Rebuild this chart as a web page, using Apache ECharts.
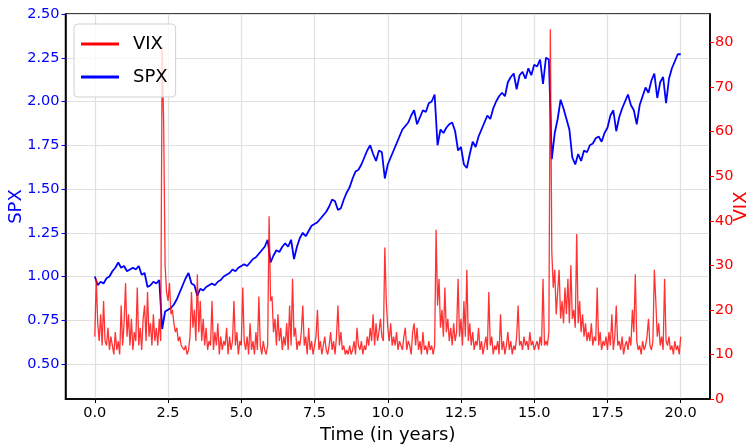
<!DOCTYPE html>
<html>
<head>
<meta charset="utf-8">
<script src="https://cdn.jsdelivr.net/npm/echarts@6/dist/echarts.min.js"></script>
<style>
  html, body { margin: 0; padding: 0; background: #fff; }
  #chart { width: 753px; height: 447px; }
</style>
</head>
<body>
<div id="chart"></div>
<script>
// sampling step of each series, in years
var spxStep = 0.1;
var vixStep = 0.05;

// SPX (normalised), one value every 0.1 year
var spxValues = [
  1.00, 0.95, 0.97, 0.96, 0.99, 1.00, 1.03, 1.05, 1.08, 1.05,
  1.06, 1.03, 1.04, 1.05, 1.04, 1.06, 1.01, 1.02, 0.94, 0.95,
  0.97, 0.96, 0.98, 0.70, 0.80, 0.81, 0.82, 0.84, 0.87, 0.91,
  0.95, 0.99, 1.02, 0.96, 0.95, 0.89, 0.93, 0.92, 0.94, 0.95,
  0.96, 0.95, 0.97, 0.98, 1.00, 1.01, 1.02, 1.04, 1.03, 1.05,
  1.06, 1.07, 1.06, 1.08, 1.10, 1.11, 1.13, 1.15, 1.17, 1.21,
  1.08, 1.12, 1.15, 1.14, 1.17, 1.19, 1.17, 1.21, 1.10, 1.17,
  1.22, 1.25, 1.23, 1.26, 1.29, 1.30, 1.31, 1.33, 1.35, 1.37,
  1.40, 1.44, 1.43, 1.38, 1.39, 1.44, 1.48, 1.51, 1.56, 1.60,
  1.61, 1.64, 1.68, 1.72, 1.75, 1.70, 1.66, 1.72, 1.71, 1.56,
  1.64, 1.68, 1.72, 1.76, 1.80, 1.84, 1.86, 1.88, 1.92, 1.95,
  1.87, 1.91, 1.95, 1.94, 1.99, 2.00, 2.04, 1.75, 1.84, 1.82,
  1.85, 1.87, 1.88, 1.83, 1.72, 1.74, 1.64, 1.62, 1.70, 1.77,
  1.74, 1.80, 1.84, 1.88, 1.92, 1.90, 1.96, 2.00, 2.03, 2.05,
  2.03, 2.11, 2.14, 2.16, 2.07, 2.15, 2.17, 2.13, 2.19, 2.15,
  2.21, 2.20, 2.24, 2.10, 2.25, 2.24, 1.67, 1.82, 1.90, 2.01,
  1.96, 1.90, 1.84, 1.68, 1.64, 1.70, 1.66, 1.72, 1.71, 1.75,
  1.76, 1.79, 1.80, 1.77, 1.82, 1.85, 1.92, 1.95, 1.83, 1.91,
  1.96, 2.00, 2.04, 1.98, 1.95, 1.87, 1.98, 2.03, 2.08, 2.05,
  2.12, 2.16, 2.02, 2.11, 2.14, 1.99, 2.13, 2.19, 2.23, 2.27,
  2.27
];

// VIX, one value every 0.05 year
var vixValues = [
  14, 27, 17, 13, 19, 12, 22, 13, 12, 16, 11, 14, 12, 10, 15, 11, 13, 10, 21, 12,
  17, 26, 14, 19, 12, 18, 11, 15, 13, 25, 12, 16, 11, 18, 21, 13, 24, 14, 17, 12,
  19, 13, 16, 12, 18, 13, 79, 62, 30, 24, 22, 26, 19, 20, 17, 15, 16, 13, 14, 12,
  12, 11, 12, 10, 11, 14, 24, 16, 20, 13, 28, 15, 22, 13, 18, 12, 16, 11, 13, 12,
  22, 11, 15, 12, 17, 10, 14, 11, 13, 12, 16, 10, 14, 11, 13, 22, 12, 15, 10, 13,
  12, 25, 13, 11, 14, 10, 17, 11, 13, 10, 15, 11, 23, 12, 10, 13, 11, 10, 12, 41,
  22, 23, 15, 18, 12, 19, 13, 16, 11, 14, 12, 17, 11, 21, 12, 27, 14, 16, 11, 13,
  12, 15, 21, 12, 14, 10, 16, 11, 13, 10, 12, 14, 20, 11, 13, 10, 12, 14, 11, 10,
  12, 15, 11, 13, 10, 14, 21, 12, 15, 11, 12, 10, 11, 10, 12, 10, 11, 13, 10, 16,
  12, 11, 13, 10, 12, 11, 14, 12, 16, 13, 19, 12, 17, 13, 15, 18, 14, 13, 34, 22,
  16, 13, 17, 12, 14, 12, 15, 11, 13, 12, 11, 14, 16, 11, 13, 12, 10, 15, 17, 12,
  16, 11, 13, 10, 15, 11, 12, 10, 13, 11, 12, 10, 12, 38, 21, 27, 16, 20, 14, 25,
  15, 18, 13, 16, 12, 17, 13, 15, 27, 14, 18, 12, 22, 14, 29, 13, 17, 12, 15, 11,
  13, 12, 16, 11, 13, 10, 12, 14, 11, 24, 12, 14, 10, 12, 11, 13, 10, 19, 11, 13,
  10, 12, 15, 11, 13, 10, 12, 11, 14, 21, 12, 13, 11, 14, 12, 13, 11, 15, 12, 13,
  11, 12, 13, 11, 14, 12, 27, 12, 13, 12, 15, 83, 33, 25, 29, 19, 24, 29, 18, 22,
  17, 25, 19, 27, 17, 30, 18, 20, 16, 37, 17, 22, 15, 19, 14, 17, 13, 15, 13, 17,
  12, 14, 13, 25, 12, 15, 11, 13, 12, 14, 11, 15, 12, 19, 11, 14, 21, 12, 13, 11,
  14, 10, 12, 13, 11, 14, 12, 20, 15, 28, 13, 11, 12, 10, 13, 11, 12, 14, 18, 12,
  11, 13, 29, 22, 14, 17, 12, 14, 11, 27, 13, 12, 14, 11, 12, 10, 13, 11, 12, 10,
  14
];

var xTicks = [0, 2.5, 5, 7.5, 10, 12.5, 15, 17.5, 20];
var spxTicks = [0.5, 0.75, 1.0, 1.25, 1.5, 1.75, 2.0, 2.25, 2.5];
var vixTicks = [0, 10, 20, 30, 40, 50, 60, 70, 80];

function toPairs(values, step) {
  return values.map(function (v, i) {
    return [Math.round(i * step * 100) / 100, v];
  });
}

var font = 'DejaVu Sans';
var chart = echarts.init(document.getElementById('chart'), null, { renderer: 'canvas' });

var option = {
  animation: false,
  backgroundColor: '#fff',
  grid: {
    left: 65.5, right: 43, top: 14, bottom: 48,
    show: true, borderColor: '#000', borderWidth: 1.5,
    outerBoundsMode: 'none'
  },
  legend: {
    orient: 'vertical',
    left: 74, top: 24,
    padding: [11, 8, 11, 7],
    itemGap: 15,
    itemWidth: 38, itemHeight: 3,
    backgroundColor: 'rgba(255,255,255,0.8)',
    borderColor: '#d0d0d0', borderWidth: 1, borderRadius: 4,
    textStyle: { fontFamily: font, fontSize: 18, color: '#000', padding: [0, 0, 0, 9] },
    data: [
      { name: 'VIX', icon: 'rect', itemStyle: { color: '#ff0000', opacity: 1 } },
      { name: 'SPX', icon: 'rect', itemStyle: { color: '#0000ff', opacity: 1 } }
    ]
  },
  xAxis: {
    type: 'value',
    min: -1, max: 21,
    name: 'Time (in years)',
    nameLocation: 'middle',
    nameGap: 27,
    nameMoveOverlap: false,
    nameTextStyle: { fontFamily: font, fontSize: 18, color: '#000' },
    axisLine: { show: true, onZero: false, lineStyle: { color: '#000', width: 1.5 } },
    axisTick: { show: true, inside: false, length: 4, customValues: xTicks, lineStyle: { color: '#000' } },
    axisLabel: {
      customValues: xTicks, margin: 7,
      fontFamily: font, fontSize: 14.5, color: '#000',
      formatter: function (v) { return v.toFixed(1); }
    },
    splitLine: { show: true, lineStyle: { color: '#e0e0e0', width: 1.2 } }
  },
  yAxis: [
    {
      type: 'value',
      position: 'left',
      min: 0.3, max: 2.5,
      name: 'SPX',
      nameLocation: 'middle',
      nameRotate: 90,
      nameGap: 40,
      nameMoveOverlap: false,
      nameTextStyle: { fontFamily: font, fontSize: 18, color: '#0000ff' },
      axisLine: { show: true, onZero: false, lineStyle: { color: '#000', width: 1.5 } },
      axisTick: { show: true, length: 4, customValues: spxTicks, lineStyle: { color: '#0000ff' } },
      axisLabel: {
        customValues: spxTicks, margin: 6,
        fontFamily: font, fontSize: 14.5, color: '#0000ff',
        formatter: function (v) { return v.toFixed(2); }
      },
      splitLine: { show: true, lineStyle: { color: '#e0e0e0', width: 1.2 } }
    },
    {
      type: 'value',
      position: 'right',
      min: 0, max: 86.4,
      name: 'VIX',
      nameLocation: 'middle',
      nameRotate: 90,
      nameGap: 22,
      nameMoveOverlap: false,
      nameTextStyle: { fontFamily: font, fontSize: 18, color: '#ff0000' },
      axisLine: { show: true, onZero: false, lineStyle: { color: '#000', width: 1.5 } },
      axisTick: { show: true, length: 4, customValues: vixTicks, lineStyle: { color: '#ff0000' } },
      axisLabel: {
        customValues: vixTicks, margin: 5,
        fontFamily: font, fontSize: 14.5, color: '#ff0000'
      },
      splitLine: { show: false }
    }
  ],
  series: [
    {
      name: 'SPX',
      type: 'line',
      yAxisIndex: 0,
      data: toPairs(spxValues, spxStep),
      showSymbol: false,
      symbol: 'none',
      lineStyle: { color: '#0000ff', width: 1.8 },
      itemStyle: { color: '#0000ff' },
      z: 2
    },
    {
      name: 'VIX',
      type: 'line',
      yAxisIndex: 1,
      data: toPairs(vixValues, vixStep),
      showSymbol: false,
      symbol: 'none',
      lineStyle: { color: '#ff0000', width: 1.3, opacity: 0.8 },
      itemStyle: { color: '#ff0000' },
      z: 3
    }
  ]
};

chart.setOption(option);
</script>
</body>
</html>
